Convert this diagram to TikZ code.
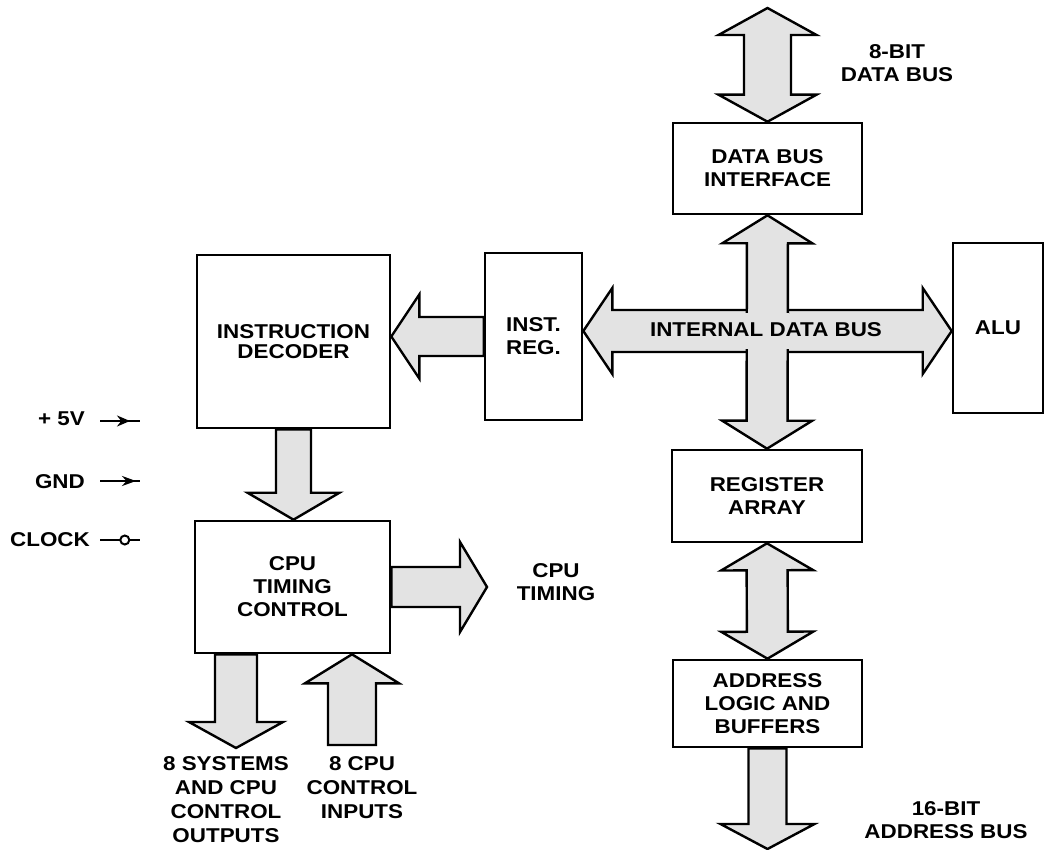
\documentclass[tikz,border=0pt]{standalone}
\usepackage{fontspec}
\setmainfont{Liberation Sans}[FakeStretch=1.12]
\usetikzlibrary{calc,decorations.markings,arrows.meta}
\newcommand\lbltxt{\bfseries\fontsize{20}{23}\selectfont}
\tikzset{
  blk/.style={draw, line width=2.6pt, inner sep=0pt, font=\lbltxt, align=center},
  bus/.style={draw, line width=2.4pt, fill=gray!22, line join=miter},
  lbl/.style={font=\lbltxt, align=center, inner sep=0pt},
  pin/.style={line width=2.4pt},
}
% single fat arrow: #1 start, #2 tip, #3 shaft half width, #4 head half width, #5 head length
\newcommand\fatarrow[5]{%
  \coordinate (fa-h) at ($(#2)!#5!(#1)$);
  \draw[bus] ($(#1)!#3!90:(#2)$) -- ($(fa-h)!#3!90:(#2)$) -- ($(fa-h)!#4!90:(#2)$)
    -- (#2) -- ($(fa-h)!#4!-90:(#2)$) -- ($(fa-h)!#3!-90:(#2)$) -- ($(#1)!#3!-90:(#2)$) -- cycle;}
% double fat arrow
\newcommand\fatdouble[5]{%
  \coordinate (fd-a) at ($(#1)!#5!(#2)$);
  \coordinate (fd-b) at ($(#2)!#5!(#1)$);
  \draw[bus] (#1) -- ($(fd-a)!#4!90:(#2)$) -- ($(fd-a)!#3!90:(#2)$) -- ($(fd-b)!#3!90:(#2)$)
    -- ($(fd-b)!#4!90:(#2)$) -- (#2) -- ($(fd-b)!#4!-90:(#2)$) -- ($(fd-b)!#3!-90:(#2)$)
    -- ($(fd-a)!#3!-90:(#2)$) -- ($(fd-a)!#4!-90:(#2)$) -- cycle;}
\begin{document}
\begin{tikzpicture}[x=1pt,y=-1pt]
\useasboundingbox (0,0) rectangle (1046,850);
\fill[white] (0,0) rectangle (1046,850);

% blocks
\node[blk, minimum width=193pt, minimum height=173pt] (dec) at (293.5,341.5) {INSTRUCTION\\[-3pt]DECODER};
\node[blk, minimum width=97pt, minimum height=167pt] (ireg) at (533.5,336.5) {INST.\\REG.};
\node[blk, minimum width=189pt, minimum height=91pt] (dbi) at (767.5,168.5) {DATA BUS\\INTERFACE};
\node[blk, minimum width=90pt, minimum height=170pt] (alu) at (998,328) {ALU};
\node[blk, minimum width=190pt, minimum height=92pt] (reg) at (767,496) {REGISTER\\ARRAY};
\node[blk, minimum width=195pt, minimum height=132pt] (tim) at (292.5,587) {CPU\\TIMING\\CONTROL};
\node[blk, minimum width=189pt, minimum height=87pt] (addr) at (767.5,703.5) {ADDRESS\\LOGIC AND\\BUFFERS};

% free ends
\coordinate (dtop) at (767.5,8);
\coordinate (ib) at (767,331);
\coordinate (tout) at (487,587);
\coordinate (oend) at (236,748);
\coordinate (istart) at (352,745);
\coordinate (abot) at (767.5,849);

% buses
\fatdouble{dtop}{dbi.north}{23.5pt}{49pt}{27pt}
\fatdouble{ireg.east |- ib}{alu.west |- ib}{21pt}{43pt}{29pt}
\fatdouble{dbi.south}{reg.north}{20.5pt}{45pt}{28pt}
% merge the crossing
\fill[gray!22] (748.2,309) rectangle (785.8,353);
\fill[gray!22] (745,313.2) rectangle (789,348.8);
\node[lbl] (ibus) at (766,330) {INTERNAL DATA BUS};

\fatarrow{ireg.west}{dec.east |- ireg.west}{19.5pt}{42pt}{28pt}
\fatarrow{dec.south}{dec.south |- tim.north}{17.5pt}{46pt}{27pt}
\fatarrow{tim.east}{tout}{20pt}{45pt}{27pt}
\fatarrow{oend |- tim.south}{oend}{21pt}{47pt}{26pt}
\fatarrow{istart}{istart |- tim.south}{24pt}{47pt}{29pt}
\fatdouble{reg.south}{addr.north}{20.5pt}{46pt}{27pt}
\fatarrow{addr.south}{abot}{19pt}{47pt}{25pt}

% labels
\node[lbl] (ldb) at (897,63) {8-BIT\\DATA BUS};
\node[lbl] (lab) at (946,820) {16-BIT\\ADDRESS BUS};
\node[lbl] (lct) at (556,582) {CPU\\TIMING};
\node[lbl, anchor=north, font=\bfseries\fontsize{20}{24}\selectfont] (lout) at (226,756) {8 SYSTEMS\\AND CPU\\CONTROL\\OUTPUTS};
\node[lbl, anchor=north, font=\bfseries\fontsize{20}{24}\selectfont] (lin) at (362,756) {8 CPU\\CONTROL\\INPUTS};

% power / clock pins
\node[lbl, anchor=east] (l5v) at (85,419) {+ 5V};
\node[lbl, anchor=east] (lgnd) at (85,482) {GND};
\node[lbl, anchor=east] (lclk) at (90,540) {CLOCK};
\coordinate (p1a) at (100,421); \coordinate (p1b) at (140,421);
\coordinate (p2a) at (100,481); \coordinate (p2b) at (140,481);
\coordinate (p3a) at (100,540); \coordinate (p3b) at (140,540);
\draw[pin, postaction={decorate}, decoration={markings, mark=at position 0.75 with {\arrow{Stealth[open, length=13pt, width=11pt, line width=2pt]}}}] (p1a) -- (p1b);
\draw[pin, postaction={decorate}, decoration={markings, mark=at position 0.9 with {\arrow{Stealth[length=14pt, width=10pt]}}}] (p2a) -- (p2b);
\draw[pin] (p3a) -- (p3b);
\draw[line width=2pt, fill=white] ($(p3a)!0.62!(p3b)$) circle (4.5pt);
\end{tikzpicture}
\end{document}
